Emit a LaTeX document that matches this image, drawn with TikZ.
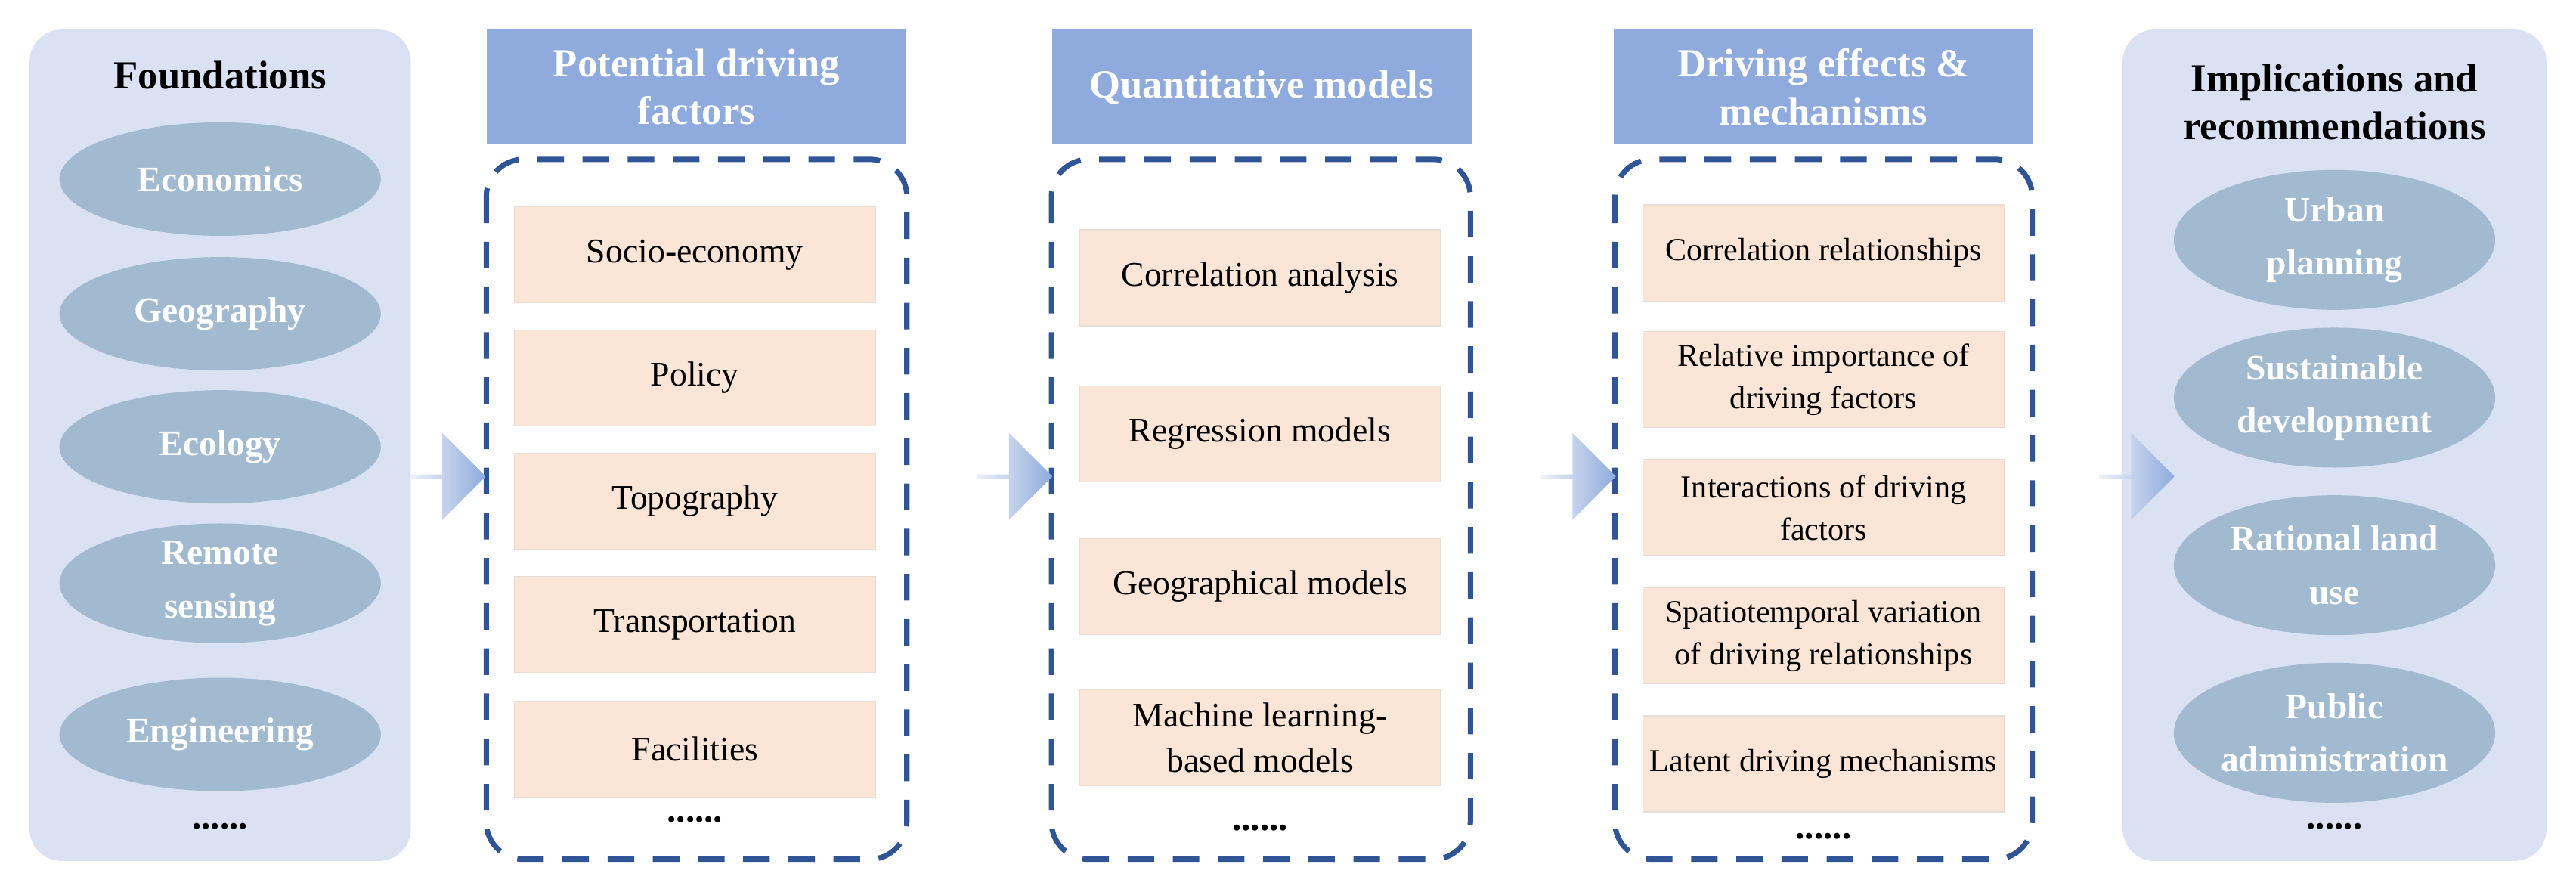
\documentclass[tikz,border=0pt]{standalone}
\usepackage{fontspec}
\setmainfont{Liberation Serif}
\usetikzlibrary{shapes.geometric,shapes.arrows}
\definecolor{panelbg}{HTML}{DAE1F2}
\definecolor{ellfill}{HTML}{A2BACF}
\definecolor{headfill}{HTML}{8FAADC}
\definecolor{dashblue}{HTML}{2F5597}
\definecolor{itemfill}{HTML}{FBE5D6}
\definecolor{itemline}{HTML}{E8DCD6}

\begin{document}
\begin{tikzpicture}[x=0.02173cm,y=-0.02173cm,
    panel/.style={fill=panelbg,rounded corners=12pt},
    field/.style={ellipse,fill=ellfill,text=white,font=\fontsize{13.5}{16}\selectfont\bfseries,
                  minimum width=4.25cm,minimum height=1.5cm,align=center,inner sep=0pt},
    head/.style={fill=headfill,text=white,font=\fontsize{15}{18}\selectfont\bfseries,
                 minimum width=5.55cm,minimum height=1.52cm,align=center,inner sep=0pt},
    group/.style={draw=dashblue,line width=2pt,dash pattern=on 10pt off 7pt,rounded corners=14pt},
    item/.style={fill=itemfill,draw=itemline,font=\fontsize{13}{17}\selectfont,
                 minimum width=4.78cm,minimum height=1.27cm,align=center,inner sep=1pt},
    more/.style={font=\fontsize{14}{14}\selectfont\bfseries},
    flow/.style={single arrow,single arrow head extend=4pt,minimum height=1.0cm,
                 minimum width=1.15cm,inner sep=0pt,left color=headfill!15,right color=headfill}]
  \useasboundingbox (0,0) rectangle (1568,541);

  % Foundations
  \fill[panel] (18,18) rectangle (250,524);
  \node[font=\fontsize{15}{18}\selectfont\bfseries] (found) at (134,46) {Foundations};
  \node[field] (eco)  at (134,109) {Economics};
  \node[field] (geo)  at (134,191) {Geography};
  \node[field] (ecol) at (134,272) {Ecology};
  \node[field] (rs)   at (134,355) {Remote\\[4pt]sensing};
  \node[field] (eng)  at (134,447) {Engineering};
  \node[more]  (fdots) at (134,503) {......};

  % Potential driving factors
  \node[head] (hfac) at (424,53) {Potential driving\\factors};
  \draw[group] (296,97) rectangle (552,523);
  \node[item] (se)  at (423,155) {Socio-economy};
  \node[item] (pol) at (423,230) {Policy};
  \node[item] (top) at (423,305) {Topography};
  \node[item] (tra) at (423,380) {Transportation};
  \node[item] (fac) at (423,456) {Facilities};
  \node[more] (pdots) at (423,499) {......};

  % Quantitative models
  \node[head] (hmod) at (768,53) {Quantitative models};
  \draw[group] (640,97) rectangle (895,523);
  \node[item] (cor) at (767,169) {Correlation analysis};
  \node[item] (reg) at (767,264) {Regression models};
  \node[item] (gm)  at (767,357) {Geographical models};
  \node[item] (ml)  at (767,449) {Machine learning-\\based models};
  \node[more] (mdots) at (767,504) {......};

  % Driving effects
  \node[head] (heff) at (1110,53) {Driving effects \&\\mechanisms};
  \draw[group] (983,97) rectangle (1237,523);
  \node[item,font=\fontsize{12}{16}\selectfont] (crel) at (1110,154) {Correlation relationships};
  \node[item,font=\fontsize{12}{16}\selectfont] (rimp) at (1110,231) {Relative importance of\\driving factors};
  \node[item,font=\fontsize{12}{16}\selectfont] (intr) at (1110,309) {Interactions of driving\\factors};
  \node[item,font=\fontsize{12}{16}\selectfont] (stv)  at (1110,387) {Spatiotemporal variation\\of driving relationships};
  \node[item,font=\fontsize{12}{16}\selectfont] (lat)  at (1110,465) {Latent driving mechanisms};
  \node[more] (edots) at (1110,509) {......};

  % Implications
  \fill[panel] (1292,18) rectangle (1550,524);
  \node[font=\fontsize{15}{18}\selectfont\bfseries,align=center] (impl) at (1421,62) {Implications and\\recommendations};
  \node[field,minimum height=1.85cm] (urb) at (1421,146) {Urban\\[4pt]planning};
  \node[field,minimum height=1.85cm] (sus) at (1421,242) {Sustainable\\[4pt]development};
  \node[field,minimum height=1.85cm] (rat) at (1421,344) {Rational land\\[4pt]use};
  \node[field,minimum height=1.85cm] (pub) at (1421,446) {Public\\[4pt]administration};
  \node[more] (idots) at (1421,503) {......};

  % flow arrows
  \node[flow] (a1) at (272,290) {};
  \node[flow] (a2) at (617,290) {};
  \node[flow] (a3) at (960,290) {};
  \node[flow] (a4) at (1300,290) {};
\end{tikzpicture}
\end{document}
